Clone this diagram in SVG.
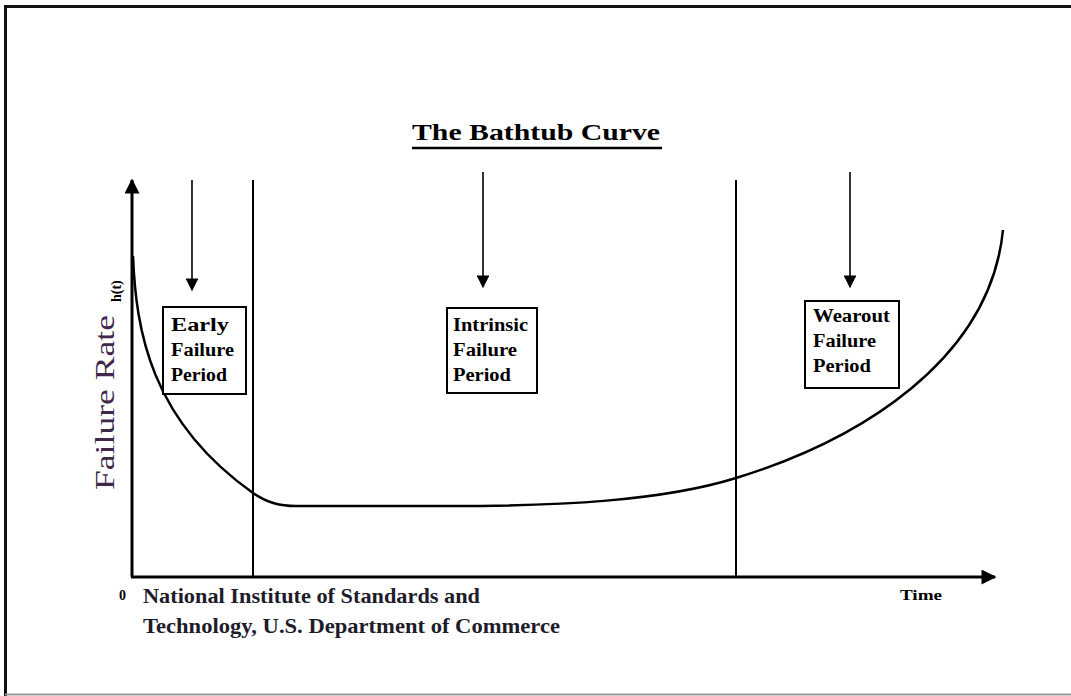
<svg xmlns="http://www.w3.org/2000/svg" width="1071" height="696" viewBox="0 0 1071 696">
  <style>
    .frame { stroke: #111; stroke-width: 3; fill: none; }
    .axis { stroke: #000; stroke-width: 3; fill: none; }
    .vline { stroke: #000; stroke-width: 2; fill: none; }
    .curve { stroke: #000; stroke-width: 2.5; fill: none; }
    .pointer { stroke: #000; stroke-width: 1.6; fill: none; }
    .box { stroke: #000; stroke-width: 2; fill: #fff; }
    .lbl { font-family: "Liberation Serif", "Times New Roman", serif; font-weight: bold; font-size: 18px; fill: #000; }
    .title { font-family: "Liberation Serif", "Times New Roman", serif; font-weight: bold; font-size: 24px; fill: #000; }
    .foot { font-family: "Liberation Serif", "Times New Roman", serif; font-weight: bold; font-size: 22px; fill: #1e1c2a; }
    .small { font-family: "Liberation Serif", "Times New Roman", serif; font-weight: bold; font-size: 14px; fill: #000; }
    .ylabel { font-family: "Liberation Serif", "Times New Roman", serif; font-size: 28px; fill: #40284a; }
  </style>
  <defs>
    <marker id="axisHead" viewBox="0 0 10 10" refX="9" refY="5" markerWidth="7" markerHeight="5" markerUnits="strokeWidth" orient="auto">
      <path d="M0,0 L10,5 L0,10 Z" fill="#000"/>
    </marker>
    <marker id="ptrHead" viewBox="0 0 10 10" refX="9" refY="5" markerWidth="11" markerHeight="8" markerUnits="strokeWidth" orient="auto">
      <path d="M0,0 L10,5 L0,10 Z" fill="#000"/>
    </marker>
  </defs>
  <rect width="1071" height="696" fill="#fff"/>

  <!-- outer frame -->
  <g id="frame">
    <line class="frame" x1="5" y1="6.5" x2="1071" y2="6.5"/>
    <line class="frame" x1="5.5" y1="5" x2="5.5" y2="696"/>
    <line x1="5" y1="694.5" x2="1071" y2="694.5" stroke="#9a9a9a" stroke-width="2"/>
  </g>

  <!-- title -->
  <g id="title">
    <text class="title" x="412" y="140" textLength="248" lengthAdjust="spacingAndGlyphs">The Bathtub Curve</text>
    <line x1="412" y1="148" x2="662" y2="148" stroke="#000" stroke-width="2.5"/>
  </g>

  <!-- connectors: axes, period dividers, pointers, curve -->
  <g id="connectors">
    <line class="axis" x1="132" y1="577" x2="132" y2="180" marker-end="url(#axisHead)"/>
    <line class="axis" x1="131" y1="577" x2="995" y2="577" marker-end="url(#axisHead)"/>
    <line class="vline" x1="253" y1="180" x2="253" y2="577"/>
    <line class="vline" x1="736" y1="180" x2="736" y2="577"/>
    <line class="pointer" x1="192" y1="180" x2="192" y2="290" marker-end="url(#ptrHead)"/>
    <line class="pointer" x1="483" y1="172" x2="483" y2="287" marker-end="url(#ptrHead)"/>
    <line class="pointer" x1="850" y1="172" x2="850" y2="287" marker-end="url(#ptrHead)"/>
    <path class="curve" d="M133,256 C136,330 150,420 253,493 C268,503 280,506 296,506 L450,506 C560,506 662,501 736,478 C860,440 990,360 1003,230"/>
  </g>

  <!-- period boxes -->
  <g id="early">
    <rect class="box" x="163" y="307" width="83" height="87"/>
    <text class="lbl" x="171" y="331" textLength="58" lengthAdjust="spacingAndGlyphs">Early</text>
    <text class="lbl" x="171" y="356" textLength="63" lengthAdjust="spacingAndGlyphs">Failure</text>
    <text class="lbl" x="171" y="381" textLength="56" lengthAdjust="spacingAndGlyphs">Period</text>
  </g>
  <g id="intrinsic">
    <rect class="box" x="447" y="308" width="90" height="85"/>
    <text class="lbl" x="453" y="331" textLength="75" lengthAdjust="spacingAndGlyphs">Intrinsic</text>
    <text class="lbl" x="453" y="356" textLength="64" lengthAdjust="spacingAndGlyphs">Failure</text>
    <text class="lbl" x="453" y="381" textLength="58" lengthAdjust="spacingAndGlyphs">Period</text>
  </g>
  <g id="wearout">
    <rect class="box" x="805" y="301" width="94" height="87"/>
    <text class="lbl" x="813" y="322" textLength="77" lengthAdjust="spacingAndGlyphs">Wearout</text>
    <text class="lbl" x="813" y="347" textLength="63" lengthAdjust="spacingAndGlyphs">Failure</text>
    <text class="lbl" x="813" y="372" textLength="58" lengthAdjust="spacingAndGlyphs">Period</text>
  </g>

  <!-- axis labels -->
  <g id="y-label">
    <text class="ylabel" transform="translate(114,490) rotate(-90)" textLength="175" lengthAdjust="spacingAndGlyphs">Failure  Rate</text>
    <text class="small" transform="translate(121,302) rotate(-90)" font-size="14">h(t)</text>
  </g>
  <g id="x-label">
    <text class="small" x="119" y="600" font-size="15">0</text>
    <text class="small" x="900" y="600" textLength="42" lengthAdjust="spacingAndGlyphs">Time</text>
  </g>
  <g id="source">
    <text class="foot" x="143" y="603" textLength="337" lengthAdjust="spacingAndGlyphs">National Institute of Standards and</text>
    <text class="foot" x="143" y="633" textLength="417" lengthAdjust="spacingAndGlyphs">Technology, U.S. Department of Commerce</text>
  </g>
</svg>
